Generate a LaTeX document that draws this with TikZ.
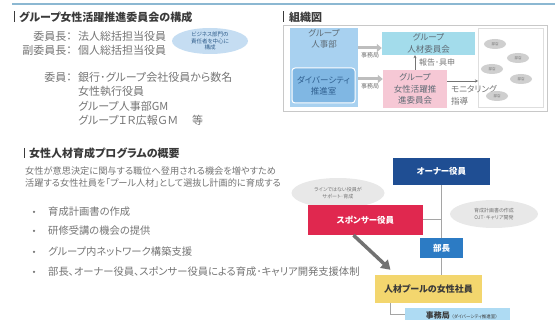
\documentclass[tikz,border=0pt]{standalone}
\usepackage{fontspec}
\setmainfont{Noto Sans CJK JP}[RawFeature=+palt]
\usetikzlibrary{arrows.meta,shapes.geometric}
\definecolor{topline}{HTML}{8CB8D2}
\definecolor{headc}{HTML}{3A3A3A}
\definecolor{bodyc}{HTML}{747474}
\definecolor{ellblue}{HTML}{C5DDF2}
\definecolor{ellbluetxt}{HTML}{2E5C8A}
\definecolor{framec}{HTML}{C8C8C8}
\definecolor{jinjic}{HTML}{A8D1F0}
\definecolor{divc}{HTML}{80B7E3}
\definecolor{divtxt}{HTML}{2F5F8F}
\definecolor{cyanc}{HTML}{A3DCEB}
\definecolor{pinkc}{HTML}{F6C8D5}
\definecolor{fatc}{HTML}{BEBEBE}
\definecolor{orgell}{HTML}{CFCFCF}
\definecolor{ownerc}{HTML}{1F4E93}
\definecolor{sponsc}{HTML}{E0284F}
\definecolor{buchoc}{HTML}{2C7BC4}
\definecolor{yellowc}{HTML}{F3D66E}
\definecolor{jimuc}{HTML}{AEDBF3}
\definecolor{grayell}{HTML}{E8E8E8}
\definecolor{bigarr}{HTML}{727272}
\definecolor{linec}{HTML}{A5A5A5}
\definecolor{boxtxt}{HTML}{5F6B75}
\tikzset{
  hbar/.style={line width=1.6pt, draw=headc},
  headtxt/.style={anchor=west, inner sep=0pt, text=headc, font=\fontsize{11}{12}\selectfont\bfseries},
  bodytxt/.style={anchor=west, inner sep=0pt, text=bodyc, font=\fontsize{11}{12}\selectfont},
  labtxt/.style={anchor=east, inner sep=0pt, text=bodyc, font=\fontsize{11}{12}\selectfont},
  desctxt/.style={anchor=west, inner sep=0pt, text=bodyc, font=\fontsize{9.2}{10}\selectfont},
  bultxt/.style={anchor=west, inner sep=0pt, text=bodyc, font=\fontsize{10.3}{11}\selectfont},
  bulldot/.style={circle, fill=bodyc, inner sep=0pt, minimum size=2.5pt},
  orgbox/.style={draw=none, inner sep=0pt, align=center, text=boxtxt, font=\fontsize{8.5}{11.5}\selectfont},
  fatarrow/.style={draw=fatc, line width=3pt, -{Triangle[length=5pt,width=8pt]}},
  thinarrow/.style={draw=bodyc, line width=0.6pt, -{Stealth[length=3pt,width=3pt]}},
  smalltxt/.style={inner sep=0pt, text=bodyc, font=\fontsize{7.5}{9}\selectfont},
  orgell/.style={ellipse, fill=orgell, minimum width=22pt, minimum height=10pt, inner sep=0pt, text=bodyc, font=\fontsize{3.5}{4}\selectfont},
  solidbox/.style={inner sep=0pt, align=center, text=white, font=\fontsize{8.5}{10}\selectfont\bfseries},
  grayellipse/.style={ellipse, fill=grayell, inner sep=0pt, align=center, text=bodyc, font=\fontsize{5}{7}\selectfont},
  conn/.style={draw=linec, line width=1pt}
}
\begin{document}
\begin{tikzpicture}[x=1pt,y=-1pt]
\useasboundingbox (0,0) rectangle (555,320);
% top line
\draw[draw=topline, line width=2.5pt] (12,4) -- (555,4);

% ---------- Left top: committee composition
\draw[hbar] (14.5,11.5) -- (14.5,22);
\node[headtxt] (h1) at (19,17) {グループ女性活躍推進委員会の構成};
\node[labtxt] (l1) at (72,36) {委員長：};
\node[bodytxt] (v1) at (78,36) {法人総括担当役員};
\node[labtxt] (l2) at (72,50) {副委員長：};
\node[bodytxt] (v2) at (78,50) {個人総括担当役員};
\node[ellipse, fill=ellblue, minimum width=76pt, minimum height=26pt, inner sep=0pt, align=center, text=ellbluetxt, font=\fontsize{5.5}{6.5}\selectfont] (bell) at (210,41) {ビジネス部門の\\責任者を中心に\\構成};
\node[labtxt] (l3) at (72,77) {委員：};
\node[bodytxt] (v3) at (78,77) {銀行･グループ会社役員から数名};
\node[bodytxt] (v4) at (78,91) {女性執行役員};
\node[bodytxt] (v5) at (78,106) {グループ人事部GM};
\node[bodytxt] (v6) at (78,120) {グループＩＲ広報ＧＭ};
\node[bodytxt] (v7) at (192,120) {等};

% ---------- Right top: org chart
\draw[hbar] (283.5,11.5) -- (283.5,22);
\node[headtxt] (h2) at (289,17) {組織図};
\draw[draw=framec, line width=0.6pt] (283,25) rectangle (547,111);
\node[orgbox, fill=jinjic, minimum width=68pt, minimum height=79pt] (jinji) at (324,67.5) {};
\node[orgbox, anchor=north] (jinjit) at (324,29) {グループ\\人事部};
\node[orgbox, fill=divc, draw=white, line width=1pt, rounded corners=3pt, minimum width=63pt, minimum height=35pt, text=divtxt] (div) at (323.5,85.5) {ダイバーシティ\\推進室};
\node[orgbox, fill=cyanc, minimum width=93pt, minimum height=23pt] (cyan) at (428.5,43.5) {グループ\\人材委員会};
\node[orgbox, fill=pinkc, minimum width=64pt, minimum height=38pt] (pink) at (415,89) {グループ\\女性活躍推\\進委員会};
\draw[draw=framec!60, line width=0.5pt, fill=white] (478,28) rectangle (543,107);
\coordinate (wb) at (478,81);
\draw[fatarrow] ([yshift=-4.5pt]jinji.east |- cyan.west) -- ([yshift=-4.5pt]cyan.west);
\node[smalltxt, font=\fontsize{6}{7}\selectfont] (jm1) at (370,55) {事務局};
\draw[fatarrow] ([yshift=10pt]jinji.east |- pink.west) -- ([yshift=10pt]pink.west);
\node[smalltxt, font=\fontsize{6}{7}\selectfont] (jm2) at (370,86) {事務局};
\draw[thinarrow] (pink.north) -- (pink.north |- cyan.south);
\node[smalltxt, anchor=west, font=\fontsize{8}{9}\selectfont] (hk) at (419,62.5) {報告･具申};
\draw[thinarrow] ([yshift=8pt]pink.east) -- (wb);
\node[smalltxt, anchor=west, align=left, font=\fontsize{8.5}{12}\selectfont] (mon) at (451,95) {モニタリング\\指導};
\node[orgell] (e1) at (495,44) {部店};
\node[orgell] (e2) at (518,58) {部店};
\node[orgell] (e3) at (492,69) {部店};
\node[orgell] (e4) at (521,79) {部店};
\node[orgell] (e5) at (497,96) {部店};

% ---------- Bottom left: program
\draw[hbar] (24.5,148) -- (24.5,158.5);
\node[headtxt] (h3) at (29,153) {女性人材育成プログラムの概要};
\node[desctxt] (d1) at (25,171) {女性が意思決定に関与する職位へ登用される機会を増やすため};
\node[desctxt] (d2) at (25,183) {活躍する女性社員を「プール人材」として選抜し計画的に育成する};
\node[bulldot] (b1) at (34,212) {};
\node[bultxt] (t1) at (48,212) {育成計画書の作成};
\node[bulldot] (b2) at (34,231) {};
\node[bultxt] (t2) at (48,231) {研修受講の機会の提供};
\node[bulldot] (b3) at (34,252) {};
\node[bultxt] (t3) at (48,252) {グループ内ネットワーク構築支援};
\node[bulldot] (b4) at (34,272) {};
\node[bultxt] (t4) at (48,272) {部長、オーナー役員、スポンサー役員による育成･キャリア開発支援体制};

% ---------- Bottom right: support structure
\node[solidbox, fill=ownerc, minimum width=97pt, minimum height=27pt] (owner) at (441.5,171.5) {オーナー役員};
\node[solidbox, fill=yellowc, text=headc, minimum width=107pt, minimum height=28pt, font=\fontsize{9}{10}\selectfont\bfseries] (pool) at (428.5,289) {人材プールの女性社員};
\draw[conn] (owner.south) -- (owner.south |- pool.north);
\node[grayellipse, minimum width=93pt, minimum height=30pt] (gell1) at (338,193) {ラインではない役員が\\サポート･育成};
\node[solidbox, fill=sponsc, minimum width=115pt, minimum height=30pt] (spons) at (365.5,220) {スポンサー役員};
\draw[conn] (spons.east) -- (spons.east -| owner.south);
\node[grayellipse, minimum width=88pt, minimum height=28pt] (gell2) at (494,214) {育成計画書の作成\\OJT･キャリア開発};
\node[solidbox, fill=buchoc, minimum width=43pt, minimum height=20pt] (bucho) at (441.5,248) {部長};
\draw[draw=bigarr, line width=3.5pt, -{Triangle[length=9pt,width=11pt]}] ([xshift=-12pt]spons.south) -- ([xshift=-38pt,yshift=5pt]pool.north);
\node[inner sep=0pt, fill=jimuc, minimum width=105pt, minimum height=14pt, anchor=west, text=headc] (jimu) at (405,315) {\hspace*{8pt}\fontsize{8}{9}\selectfont\bfseries 事務局\ \fontsize{4.5}{5}\selectfont\mdseries（ダイバーシティ推進室）\hfill};
\draw[conn] ([xshift=16pt]pool.south west) |- (jimu.west);
\end{tikzpicture}
\end{document}
